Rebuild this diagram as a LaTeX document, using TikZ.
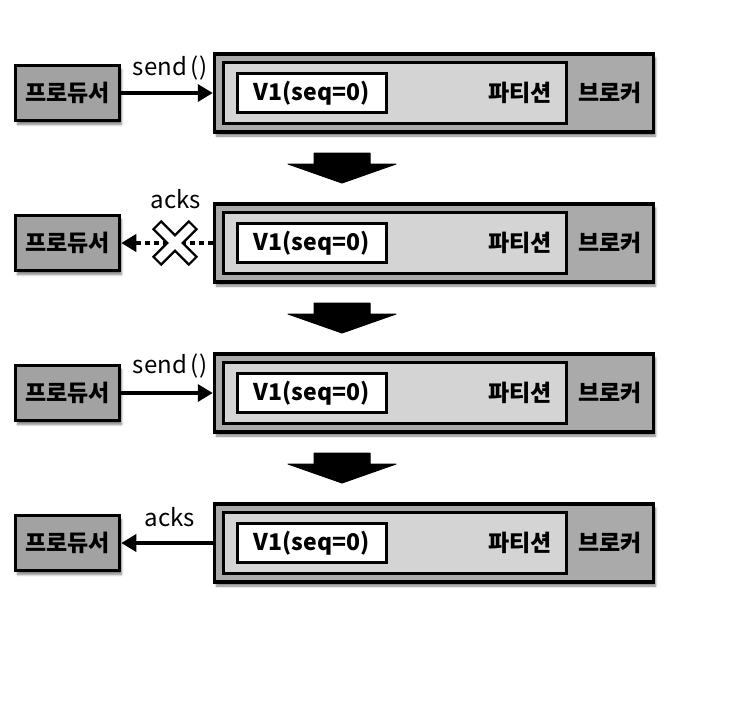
\documentclass[tikz,border=0pt]{standalone}
\usepackage{fontspec}
\setmainfont{Noto Sans CJK KR}
\usetikzlibrary{arrows.meta,shadows.blur}
\definecolor{prodgray}{RGB}{162,162,162}
\definecolor{brokgray}{RGB}{170,170,170}
\definecolor{partgray}{RGB}{212,212,212}
\tikzset{
  shad/.style={blur shadow={shadow xshift=2pt,shadow yshift=-4pt,shadow blur steps=6,shadow opacity=50}},
  producer/.style={draw,line width=3.5pt,fill=prodgray,minimum width=104pt,minimum height=55pt,inner sep=0pt,font=\bfseries\fontsize{23}{23}\selectfont,shad},
  broker/.style={draw,line width=3.5pt,fill=brokgray,minimum width=439pt,minimum height=78pt,inner sep=0pt,shad},
  partition/.style={draw,line width=3.5pt,fill=partgray,minimum width=343pt,minimum height=61pt,inner sep=0pt},
  msg/.style={draw,line width=3pt,fill=white,minimum width=149pt,minimum height=39pt,inner sep=0pt,font=\bfseries\fontsize{23}{23}\selectfont},
  lbl/.style={font=\bfseries\fontsize{23}{23}\selectfont,inner sep=0pt},
  clbl/.style={font=\fontsize{24}{24}\selectfont,inner sep=0pt},
  conn/.style={line width=3.5pt,-{Triangle[length=15pt,width=17pt]}},
  dotconn/.style={line width=4.5pt,dash pattern=on 4.5pt off 4.5pt,-{Triangle[length=15pt,width=17pt]}},
  bigarrow/.style={fill=black,draw=black,line width=1pt,line join=round},
}
\begin{document}
\begin{tikzpicture}[x=1pt,y=-1pt]
\useasboundingbox (0,0) rectangle (734,702);
\foreach \k in {1,2,3,4}{
  \pgfmathsetmacro{\yy}{93+150*(\k-1)}
  \node[producer] (p\k) at (67.5,\yy) {프로듀서};
  \node[broker] (b\k) at (434,\yy) {};
  \node[partition] (t\k) at (395,\yy) {};
  \node[msg] (m\k) at (311.5,\yy) {V1(seq=0)};
  \node[lbl] (tl\k) at (520,\yy) {파티션};
  \node[lbl] (bl\k) at (610,\yy) {브로커};
}
% row 1
\draw[conn] (p1.east) -- (b1.west);
\node[clbl] (s1) at (170,68) {send\,()};
% row 2
\draw[dotconn] (b2.west) -- (p2.east);
\node[clbl] (a2) at (176,199) {acks};
\coordinate (x2) at (175,243);
\begin{scope}[shift={(x2)},rotate=45]
\draw[fill=white,line width=2.2pt,line join=miter]
 (5.5,5.5) -- (5.5,25) -- (-5.5,25) -- (-5.5,5.5) -- (-25,5.5) -- (-25,-5.5) -- (-5.5,-5.5) -- (-5.5,-25) -- (5.5,-25) -- (5.5,-5.5) -- (25,-5.5) -- (25,5.5) -- cycle;
\end{scope}
% row 3
\draw[conn] (p3.east) -- (b3.west);
\node[clbl] (s3) at (170,366) {send\,()};
% row 4
\draw[conn] (b4.west) -- (p4.east);
\node[clbl] (a4) at (170,517) {acks};
% big arrows
\foreach \k in {0,1,2}{
  \begin{scope}[yshift=-150*\k]
  \draw[bigarrow] (314,153) -- (370,153) -- (370,164) -- (396,164) -- (342,183) -- (288,164) -- (314,164) -- cycle;
  \end{scope}
}
\end{tikzpicture}
\end{document}
